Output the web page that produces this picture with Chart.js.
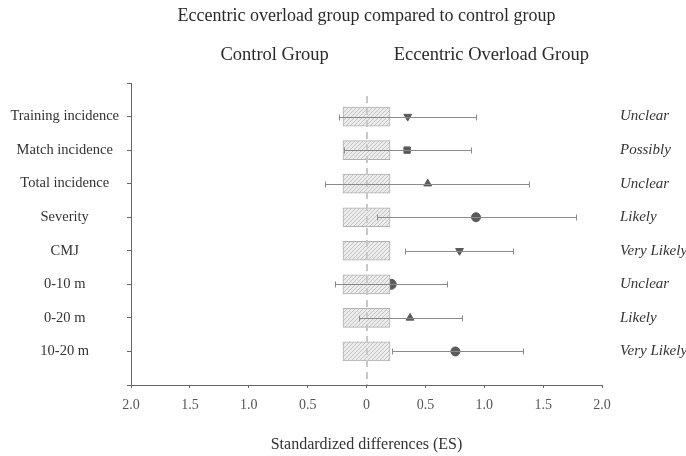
<!DOCTYPE html>
<html>
<head>
<meta charset="utf-8">
<script src="https://cdn.jsdelivr.net/npm/chart.js@4/dist/chart.umd.min.js"></script>
<style>
  html, body { margin: 0; padding: 0; background: #ffffff; }
  #wrap { width: 686px; height: 456px; }
</style>
</head>
<body>
<div id="wrap"><canvas id="c" width="686" height="456"></canvas></div>
<script>
// ---- data ----
const categories = ['Training incidence', 'Match incidence', 'Total incidence', 'Severity', 'CMJ', '0-10 m', '0-20 m', '10-20 m'];
const effect = [0.35, 0.345, 0.52, 0.93, 0.79, 0.21, 0.37, 0.755];
const lower  = [-0.235, -0.19, -0.35, 0.09, 0.33, -0.27, -0.065, 0.22];
const upper  = [0.93, 0.886, 1.38, 1.78, 1.245, 0.68, 0.81, 1.325];
const markers = ['triangle-down', 'rect', 'triangle', 'circle', 'triangle-down', 'circle', 'triangle', 'circle'];
const outcomes = ['Unclear', 'Possibly', 'Unclear', 'Likely', 'Very Likely', 'Unclear', 'Likely', 'Very Likely'];
const trivialRange = [-0.2, 0.2];
const chartTitle = 'Eccentric overload group compared to control group';
const groupLabels = ['Control Group', 'Eccentric Overload Group'];
const xAxisTitle = 'Standardized differences (ES)';

const SERIF = '"Liberation Serif", "DejaVu Serif", serif';

// hatch pattern for trivial area
function makeHatch() {
  const p = document.createElement('canvas');
  p.width = 4; p.height = 4;
  const g = p.getContext('2d');
  g.fillStyle = '#ececec';
  g.fillRect(0, 0, 4, 4);
  g.strokeStyle = '#c4c4c4';
  g.lineWidth = 1;
  g.beginPath();
  g.moveTo(0, 4); g.lineTo(4, 0);
  g.moveTo(-1, 1); g.lineTo(1, -1);
  g.moveTo(3, 5); g.lineTo(5, 3);
  g.stroke();
  return document.getElementById('c').getContext('2d').createPattern(p, 'repeat');
}

const overlay = {
  id: 'overlay',
  afterDatasetDraw(chart, args) {
    if (args.index !== 0) return;
    const ctx = chart.ctx;
    const xs = chart.scales.x, ys = chart.scales.y;
    const area = chart.chartArea;
    // zero dashed line
    ctx.save();
    ctx.strokeStyle = '#c8c8c8';
    ctx.lineWidth = 2;
    ctx.setLineDash([7, 5]);
    const x0 = Math.round(xs.getPixelForValue(0));
    ctx.beginPath();
    ctx.moveTo(x0, area.top + 13);
    ctx.lineTo(x0, area.bottom);
    ctx.stroke();
    ctx.restore();
    // error bars
    ctx.save();
    ctx.strokeStyle = '#8a8a8a';
    ctx.lineWidth = 1;
    for (let i = 0; i < categories.length; i++) {
      const y = Math.round(ys.getPixelForValue(i + 1)) + 0.5;
      const xl = Math.round(xs.getPixelForValue(lower[i])) + 0.5;
      const xh = Math.round(xs.getPixelForValue(upper[i])) + 0.5;
      ctx.beginPath();
      ctx.moveTo(xl, y); ctx.lineTo(xh, y);
      ctx.moveTo(xl, y - 3); ctx.lineTo(xl, y + 3);
      ctx.moveTo(xh, y - 3); ctx.lineTo(xh, y + 3);
      ctx.stroke();
    }
    ctx.restore();
  },
  afterDraw(chart) {
    const ctx = chart.ctx;
    const xs = chart.scales.x, ys = chart.scales.y;
    ctx.save();
    ctx.fillStyle = '#2a2a2a';
    ctx.textBaseline = 'middle';
    ctx.textAlign = 'center';
    ctx.font = '18px ' + SERIF;
    ctx.fillText(chartTitle, (chart.chartArea.left + chart.chartArea.right) / 2, 16);
    ctx.font = '18.5px ' + SERIF;
    ctx.fillText(groupLabels[0], xs.getPixelForValue(-0.78), 55);
    ctx.fillText(groupLabels[1], xs.getPixelForValue(1.06), 55);
    ctx.font = 'italic 15px ' + SERIF;
    ctx.textAlign = 'left';
    ctx.fillStyle = '#333333';
    for (let i = 0; i < outcomes.length; i++) {
      ctx.fillText(outcomes[i], 620, ys.getPixelForValue(i + 1));
    }
    ctx.restore();
  }
};

const pointStyles = markers.map(m => m === 'triangle-down' ? 'triangle' : m);
const pointRotations = markers.map(m => m === 'triangle-down' ? 180 : 0);
const pointRadii = markers.map((m, i) => m === 'rect' ? 4.5 : (i === 5 ? 5 : 4.5));

new Chart(document.getElementById('c'), {
  data: {
    datasets: [
      {
        type: 'bar',
        indexAxis: 'y',
        data: categories.map((c, i) => ({ x: trivialRange.slice(), y: i + 1 })),
        backgroundColor: makeHatch(),
        borderColor: '#b0b0b0',
        borderWidth: 1,
        borderSkipped: false,
        barThickness: 19
      },
      {
        type: 'scatter',
        data: categories.map((c, i) => ({ x: effect[i], y: i + 1 })),
        pointStyle: pointStyles,
        rotation: pointRotations,
        pointRadius: pointRadii,
        backgroundColor: '#5a5a5a',
        borderColor: '#5a5a5a',
        borderWidth: 1
      }
    ]
  },
  options: {
    responsive: false,
    animation: false,
    events: [],
    layout: { padding: { left: 0, right: 84, top: 83, bottom: 0 } },
    plugins: { legend: { display: false }, tooltip: { enabled: false }, title: { display: false } },
    scales: {
      x: {
        type: 'linear',
        min: -2, max: 2,
        offset: false,
        afterFit(s) { s.height = 71; },
        ticks: {
          stepSize: 0.5,
          autoSkip: false,
          maxRotation: 0,
          padding: 9,
          color: '#555555',
          font: { family: SERIF, size: 14 },
          callback: v => (v === 0 ? '0' : Math.abs(v).toFixed(1))
        },
        grid: { drawOnChartArea: false, tickLength: 3, color: '#666666', offset: false },
        border: { color: '#666666', width: 1 },
        title: {
          display: true,
          text: xAxisTitle,
          color: '#333333',
          font: { family: SERIF, size: 16 },
          padding: { top: 4, bottom: 2 }
        }
      },
      y: {
        type: 'linear',
        reverse: true,
        min: 0, max: 9,
        offset: false,
        afterFit(s) { s.width = 131; },
        ticks: {
          stepSize: 1,
          autoSkip: false,
          crossAlign: 'center',
          padding: 8,
          color: '#333333',
          font: { family: SERIF, size: 14.5 },
          callback: v => (v >= 1 && v <= categories.length ? categories[v - 1] : '')
        },
        grid: { drawOnChartArea: false, tickLength: 4, color: '#666666', offset: false },
        border: { color: '#666666', width: 1 }
      }
    }
  },
  plugins: [overlay]
});
</script>
</body>
</html>
